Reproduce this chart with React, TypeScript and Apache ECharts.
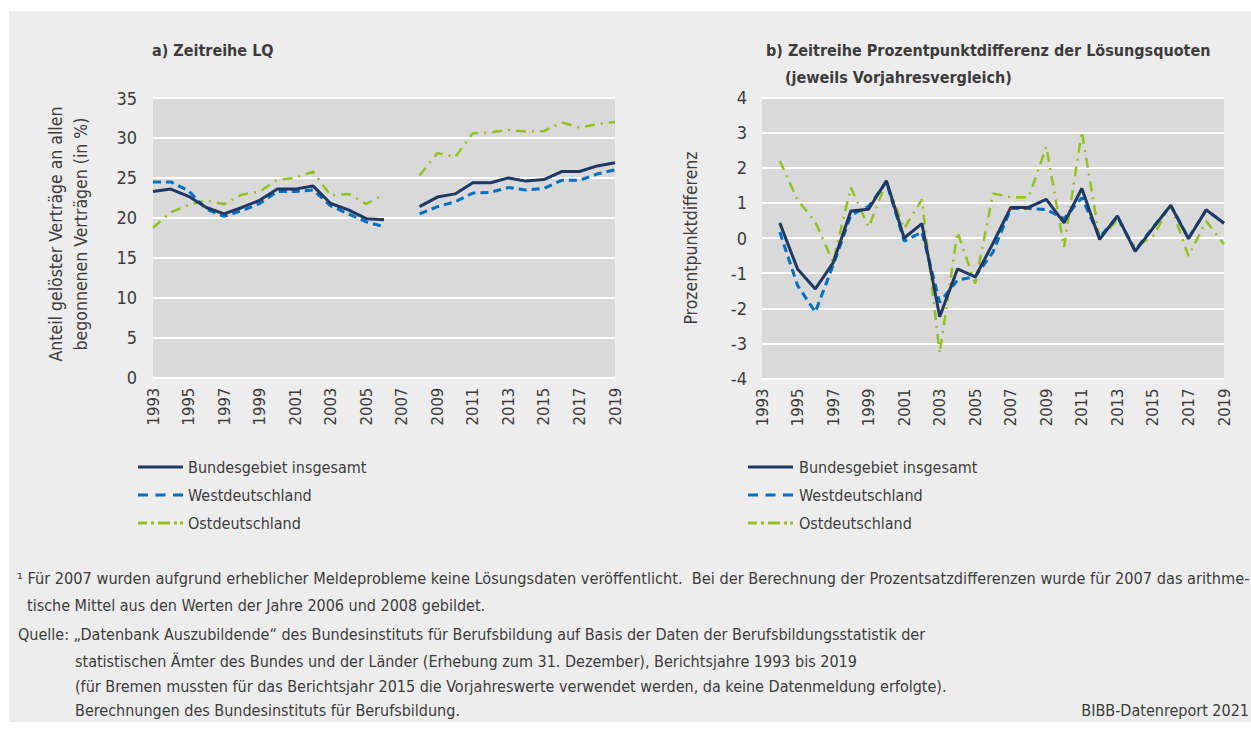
import React, { useEffect, useRef } from "react";
import * as echarts from "echarts";

const FONT = "'Liberation Sans Narrow', 'DejaVu Sans Condensed', 'Open Sans', sans-serif";

const years = ["1993","1994","1995","1996","1997","1998","1999","2000","2001","2002","2003","2004","2005","2006","2007","2008","2009","2010","2011","2012","2013","2014","2015","2016","2017","2018","2019"];

const seriesNames = ["Bundesgebiet insgesamt", "Westdeutschland", "Ostdeutschland"];

// a) Zeitreihe LQ (in %)
const lqBund = [23.3, 23.6, 22.7, 21.3, 20.5, 21.3, 22.2, 23.6, 23.6, 24.0, 21.8, 21.0, 19.9, 19.75, null, 21.4, 22.6, 23.0, 24.4, 24.4, 25.0, 24.6, 24.8, 25.8, 25.8, 26.5, 26.9];
const lqWest = [24.5, 24.5, 23.4, 21.1, 20.2, 20.9, 21.8, 23.3, 23.3, 23.5, 21.5, 20.5, 19.5, 18.9, null, 20.5, 21.4, 22.0, 23.1, 23.2, 23.8, 23.5, 23.7, 24.7, 24.7, 25.5, 26.0];
const lqOst = [18.75, 20.7, 21.6, 22.2, 21.7, 22.9, 23.3, 24.75, 25.0, 25.8, 22.8, 23.0, 21.75, 22.9, null, 25.3, 28.1, 27.6, 30.6, 30.7, 31.0, 30.8, 30.85, 31.95, 31.3, 31.75, 32.0];

// b) Prozentpunktdifferenz (Vorjahresvergleich)
const diffBund = [null, 0.43, -0.88, -1.45, -0.71, 0.77, 0.82, 1.63, 0.0, 0.41, -2.24, -0.88, -1.11, -0.15, 0.87, 0.87, 1.1, 0.43, 1.41, -0.04, 0.63, -0.38, 0.28, 0.93, -0.02, 0.8, 0.42];
const diffWest = [null, 0.17, -1.35, -2.11, -0.78, 0.65, 0.9, 1.6, -0.09, 0.17, -1.83, -1.2, -1.1, -0.4, 0.84, 0.84, 0.81, 0.55, 1.15, 0.03, 0.6, -0.35, 0.3, 0.93, 0.0, 0.8, 0.42];
const diffOst = [null, 2.2, 1.08, 0.46, -0.69, 1.44, 0.31, 1.6, 0.27, 1.1, -3.28, 0.17, -1.3, 1.27, 1.16, 1.15, 2.6, -0.26, 3.03, -0.02, 0.5, -0.26, 0.05, 0.93, -0.51, 0.48, -0.18];

const leftTicks = { min: 0, max: 35, interval: 5 };
const rightTicks = { min: -4, max: 4, interval: 1 };

const COL_BUND = "#1F3864";
const COL_WEST = "#0070C0";
const COL_OST = "#95C11F";
const TXT = "#3C3C3C";

const ICON_SOLID = "path://M0 0H45V3H0Z";
const ICON_DASH = "path://M0 0H10V3H0Z M17.5 0H27.5V3H17.5Z M35 0H45V3H35Z";
const ICON_DASHDOT = "path://M0 0H9V3H0Z M13 0H16V3H13Z M20 0H32V3H20Z M36 0H39V3H36Z M42 0H45V3H42Z";

const footLines = [
  { x: 17, y: 578, t: "¹ Für 2007 wurden aufgrund erheblicher Meldeprobleme keine Lösungsdaten veröffentlicht.  Bei der Berechnung der Prozentsatzdifferenzen wurde für 2007 das arithme-" },
  { x: 27, y: 605, t: "tische Mittel aus den Werten der Jahre 2006 und 2008 gebildet." },
  { x: 18, y: 634, t: "Quelle: „Datenbank Auszubildende“ des Bundesinstituts für Berufsbildung auf Basis der Daten der Berufsbildungsstatistik der" },
  { x: 75, y: 661, t: "statistischen Ämter des Bundes und der Länder (Erhebung zum 31. Dezember), Berichtsjahre 1993 bis 2019" },
  { x: 75, y: 686, t: "(für Bremen mussten für das Berichtsjahr 2015 die Vorjahreswerte verwendet werden, da keine Datenmeldung erfolgte)." },
  { x: 75, y: 710, t: "Berechnungen des Bundesinstituts für Berufsbildung." },
];

function lineSeries(name: string, data: (number | null)[], idx: number, kind: number) {
  const styles = [
    { color: COL_BUND, width: 3, type: "solid" as any },
    { color: COL_WEST, width: 3, type: [8, 5] as any },
    { color: COL_OST, width: 2.5, type: [10, 6, 2, 6] as any },
  ];
  return {
    name,
    type: "line",
    xAxisIndex: idx,
    yAxisIndex: idx,
    data,
    symbol: "none",
    showSymbol: false,
    connectNulls: false,
    lineStyle: styles[kind],
    itemStyle: { color: styles[kind].color },
    z: 10 - kind,
  };
}

function txt(x: number, y: number, text: string, size: number, extra: any = {}) {
  return {
    type: "text",
    x,
    y,
    silent: true,
    style: {
      text,
      fill: TXT,
      fontSize: size,
      fontFamily: FONT,
      textVerticalAlign: "middle",
      verticalAlign: "middle",
      ...extra,
    },
  };
}

function legendOf(left: number, width: number) {
  return {
    orient: "vertical",
    left,
    top: 459,
    padding: 0,
    itemWidth: width,
    itemHeight: 3,
    itemGap: 12,
    selectedMode: false,
    data: [
      { name: seriesNames[0], icon: ICON_SOLID, itemStyle: { color: COL_BUND } },
      { name: seriesNames[1], icon: ICON_DASH, itemStyle: { color: COL_WEST } },
      { name: seriesNames[2], icon: ICON_DASHDOT, itemStyle: { color: COL_OST } },
    ],
    textStyle: { fontSize: 16, color: TXT, fontFamily: FONT, lineHeight: 16 },
  };
}

export default function App() {
  const ref = useRef<HTMLDivElement>(null);
  useEffect(() => {
    if (!ref.current) return;
    const chart = echarts.init(ref.current, null, { renderer: "svg" });
    const xAxisBase = {
      type: "category",
      data: years,
      boundaryGap: false,
      axisLine: { show: false },
      axisTick: { show: false },
      splitLine: { show: false },
      axisLabel: { rotate: 90, interval: 1, margin: 10, fontSize: 16.5, color: TXT, fontFamily: FONT },
    };
    const yAxisBase = {
      type: "value",
      axisLine: { show: false },
      axisTick: { show: false },
      splitLine: { show: true, lineStyle: { color: "#FFFFFF", width: 2 } },
    };
    const option: any = {
      animation: false,
      textStyle: { fontFamily: FONT },
      grid: [
        { left: 153, top: 98, width: 462, height: 279.7, show: true, backgroundColor: "#D9D9D9", borderWidth: 0 },
        { left: 762, top: 97.5, width: 462, height: 281, show: true, backgroundColor: "#D9D9D9", borderWidth: 0 },
      ],
      xAxis: [
        { ...xAxisBase, gridIndex: 0 },
        { ...xAxisBase, gridIndex: 1 },
      ],
      yAxis: [
        { ...yAxisBase, gridIndex: 0, ...leftTicks, axisLabel: { margin: 16, fontSize: 18, color: TXT, fontFamily: FONT } },
        { ...yAxisBase, gridIndex: 1, ...rightTicks, axisLabel: { margin: 15, fontSize: 18, color: TXT, fontFamily: FONT } },
      ],
      legend: [legendOf(138, 45), legendOf(748, 47)],
      series: [
        lineSeries(seriesNames[0], lqBund, 0, 0),
        lineSeries(seriesNames[1], lqWest, 0, 1),
        lineSeries(seriesNames[2], lqOst, 0, 2),
        lineSeries(seriesNames[0], diffBund, 1, 0),
        lineSeries(seriesNames[1], diffWest, 1, 1),
        lineSeries(seriesNames[2], diffOst, 1, 2),
      ],
      graphic: [
        txt(152, 50, "a) Zeitreihe LQ", 16, { fontWeight: "bold" }),
        txt(766, 50, "b) Zeitreihe Prozentpunktdifferenz der Lösungsquoten", 16, { fontWeight: "bold" }),
        txt(785, 77, "(jeweils Vorjahresvergleich)", 16, { fontWeight: "bold" }),
        {
          ...txt(68, 234, "Anteil gelöster Verträge an allen\nbegonnenen Verträgen (in %)", 17.5, { textAlign: "center", align: "center", lineHeight: 25 }),
          rotation: Math.PI / 2,
        },
        {
          ...txt(691, 238, "Prozentpunktdifferenz", 17.5, { textAlign: "center", align: "center" }),
          rotation: Math.PI / 2,
        },
        ...footLines.map((l, i) => txt(l.x, l.y, l.t, i === 0 ? 16.2 : 16)),
        txt(1249, 710, "BIBB-Datenreport 2021", 16, { textAlign: "right", align: "right" }),
      ],
    };
    chart.setOption(option);
    return () => chart.dispose();
  }, []);
  return (
    <div style={{ position: "fixed", left: 0, top: 0, width: 1251, height: 729, background: "#FFFFFF", overflow: "hidden" }}>
      <div style={{ position: "absolute", left: 9, top: 11, width: 1242, height: 711, background: "#EDEDED" }} />
      <div ref={ref} style={{ position: "absolute", left: 0, top: 0, width: 1251, height: 729 }} />
    </div>
  );
}
